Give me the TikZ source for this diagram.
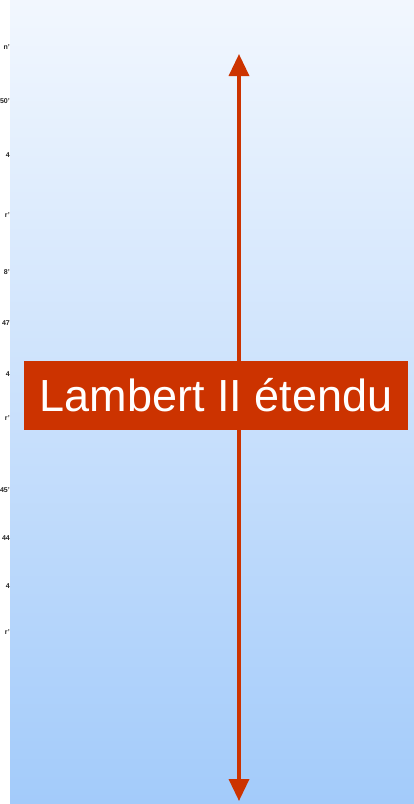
\documentclass[tikz,border=0pt]{standalone}
\usepackage{fontspec}
\setmainfont{Liberation Sans}
\usetikzlibrary{arrows.meta}
\definecolor{brick}{HTML}{CC3300}
\definecolor{bgtop}{HTML}{F2F7FE}
\definecolor{bgbot}{HTML}{A3CBFA}
\tikzset{
  frag/.style={anchor=east, inner sep=0pt, font=\fontsize{7}{8}\selectfont\bfseries, text=black!85},
  axis/.style={draw=brick, line width=3.5pt, {Triangle[width=20pt,length=22pt]}-{Triangle[width=20pt,length=22pt]}},
  label/.style={fill=brick, text=white, font=\fontsize{45}{50}\selectfont, minimum width=384pt, minimum height=69pt, inner sep=0pt}
}
\begin{document}
\begin{tikzpicture}[x=1pt,y=-1pt]
\useasboundingbox (0,0) rectangle (414,804);
\fill[white] (0,0) rectangle (414,804);
\shade[top color=bgtop, bottom color=bgbot] (10,0) rectangle (414,804);
\node[frag] (f1) at (10,47) {n'};
\node[frag] (f2) at (10,101) {50'};
\node[frag] (f3) at (10,155) {4};
\node[frag] (f4) at (10,215) {r'};
\node[frag] (f5) at (10,272) {8'};
\node[frag] (f6) at (10,323) {47};
\node[frag] (f7) at (10,374) {4};
\node[frag] (f8) at (10,418) {r'};
\node[frag] (f9) at (10,490) {45'};
\node[frag] (f10) at (10,538) {44};
\node[frag] (f11) at (10,586) {4};
\node[frag] (f12) at (10,632) {r'};
\coordinate (top) at (239,54);
\coordinate (bot) at (239,801);
\draw[axis] (bot) -- (top);
\node[label] (lam) at (216,395.5) {Lambert II étendu};
\end{tikzpicture}
\end{document}
